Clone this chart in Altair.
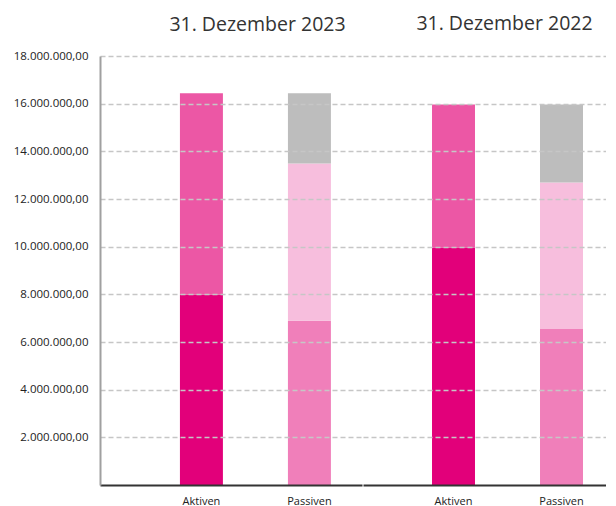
import altair as alt
import pandas as pd

# ---- data ----
years = ["31. Dezember 2023", "31. Dezember 2022"]
sides = ["Aktiven", "Passiven"]
segments = ["Aktiven unten", "Aktiven oben", "Passiven unten", "Passiven Mitte", "Passiven oben"]
seg_colors = ["#E2007A", "#EC57A5", "#F07FBA", "#F7BEDD", "#BDBDBD"]

aktiven_2023 = [7980000, 8460000]
passiven_2023 = [6890000, 6600000, 2950000]
aktiven_2022 = [9970000, 5990000]
passiven_2022 = [6550000, 6140000, 3270000]

y_ticks = [2000000, 4000000, 6000000, 8000000, 10000000, 12000000, 14000000, 16000000, 18000000]

rows = []
for year, akt, pas in [(years[0], aktiven_2023, passiven_2023), (years[1], aktiven_2022, passiven_2022)]:
    for i, v in enumerate(akt):
        rows.append({"year": year, "side": "Aktiven", "segment": segments[i], "pos": i, "value": v})
    for i, v in enumerate(pas):
        rows.append({"year": year, "side": "Passiven", "segment": segments[2 + i], "pos": i, "value": v})
df = pd.DataFrame(rows)

FONT = "Open Sans"


def panel(year, width, pad_outer, align, show_y, dx, offset):
    y_axis = alt.Axis(
        values=y_ticks, format=",.2f", title=None, zindex=1,
        grid=True, gridDash=[5, 3], gridColor="#c6c6c6", gridWidth=1.5,
        ticks=False, tickSize=0,
        labels=show_y, labelPadding=12, labelFontSize=11.5, labelFont=FONT, labelColor="#222",
        domain=show_y, domainColor="#a0a0a0", domainWidth=2,
    )
    return alt.Chart(df[df["year"] == year]).mark_bar().encode(
        x=alt.X("side:N", sort=sides,
                scale=alt.Scale(paddingInner=0.602, paddingOuter=pad_outer, align=align),
                axis=alt.Axis(title=None, labelAngle=0, ticks=False, tickSize=0, labelPadding=10,
                              labelFontSize=11, labelFont=FONT, labelColor="#222",
                              domainColor="#333", domainWidth=2, grid=False, zindex=1)),
        y=alt.Y("value:Q", stack="zero",
                scale=alt.Scale(domain=[0, 18000000], nice=False), axis=y_axis),
        color=alt.Color("segment:N", scale=alt.Scale(domain=segments, range=seg_colors), legend=None),
        order=alt.Order("pos:Q"),
    ).properties(
        width=width, height=429,
        title=alt.TitleParams(text=year, font=FONT, fontSize=19.5, fontWeight="normal",
                              color="#333", anchor="middle", frame="group", dx=dx, offset=offset),
    )


c1 = panel(years[0], 262, 0.514, 0.72, True, 26.5, 14.5)
c2 = panel(years[1], 243, 0.426, 0.75, False, 20, 21.5)

chart = alt.hconcat(c1, c2, spacing=1).properties(
    padding={"left": 5, "top": 6, "right": 0, "bottom": 0}
).configure(
    locale={"number": {"decimal": ",", "thousands": ".", "grouping": [3], "currency": ["", " €"]}}
).configure_view(stroke=None)

chart.save("out.html", embed_options={"renderer": "svg", "actions": False})
